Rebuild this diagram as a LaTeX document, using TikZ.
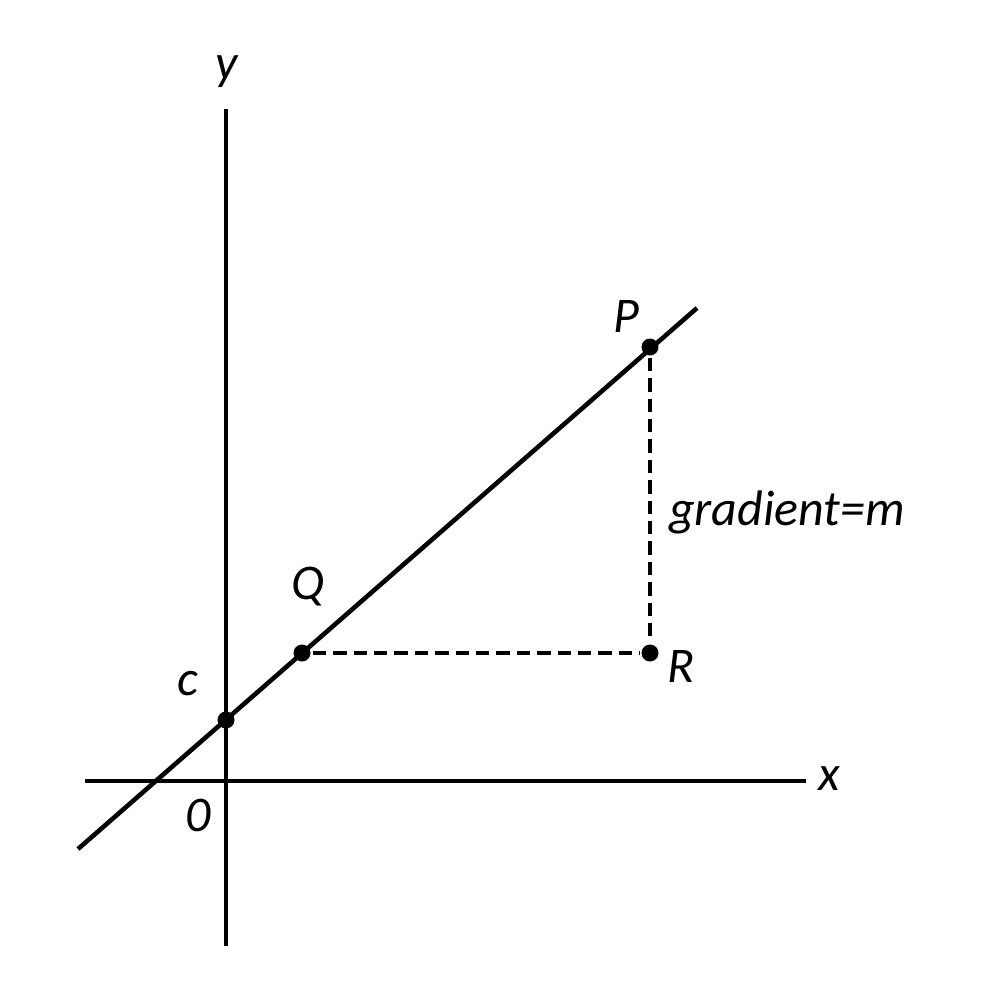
\documentclass[tikz,border=0pt]{standalone}
\usepackage{fontspec}
\setmainfont{Carlito}
\begin{document}
\begin{tikzpicture}[x=0.01cm, y=-0.01cm, line width=1.3pt,
    lbl/.style={font=\fontsize{14.2}{17}\selectfont\itshape, inner sep=0pt},
    pt/.style={circle, fill=black, inner sep=0pt, minimum size=0.17cm},
    guide/.style={dash pattern=on 3.8pt off 2pt}]
  \useasboundingbox (0,0) rectangle (999,1000);
  % axes
  \coordinate (xl) at (85,781);
  \coordinate (xr) at (806,781);
  \coordinate (yt) at (226,109);
  \coordinate (yb) at (226,946);
  \draw (xl) -- (xr);
  \draw (yt) -- (yb);
  % the line y = mx + c
  \coordinate (lo) at (78,849);
  \coordinate (hi) at (697,308);
  \draw (lo) -- (hi);
  \node[pt] (c) at (226,720) {};
  \node[pt] (Q) at (302,653) {};
  \node[pt] (P) at (650,347) {};
  \node[pt] (R) at (650,653) {};
  \draw[guide] (Q) -- (R);
  \draw[guide] (P) -- (R);
  % labels
  \node[lbl] (ylab) at (227,72) {y};
  \node[lbl] (xlab) at (829,779) {x};
  \node[lbl] (olab) at (198,815) {0};
  \node[lbl] (clab) at (188,684) {c};
  \node[lbl] (qlab) at (308,587) {Q};
  \node[lbl] (plab) at (626,316) {P};
  \node[lbl] (rlab) at (681,666) {R};
  \node[lbl] (glab) at (787,512) {gradient=m};
\end{tikzpicture}
\end{document}
